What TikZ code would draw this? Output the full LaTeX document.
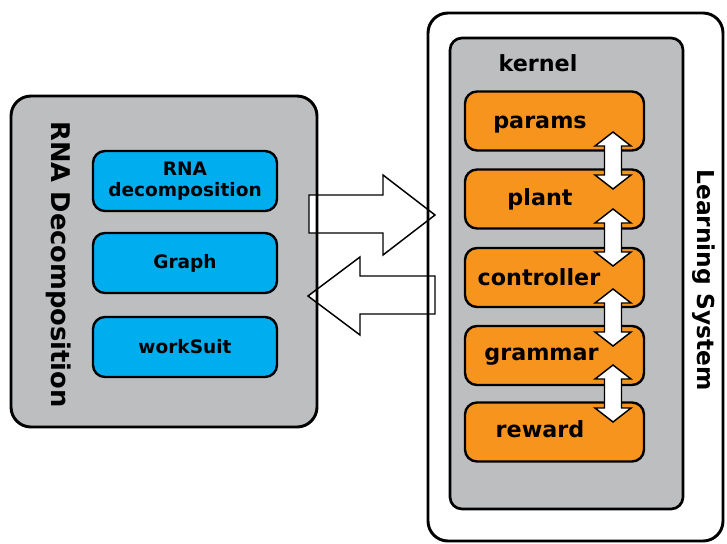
\documentclass[tikz,border=0pt]{standalone}
\usepackage{fontspec}
\setmainfont{DejaVu Sans}
\definecolor{boxgray}{HTML}{BCBEC0}
\definecolor{skyblue}{HTML}{00AEEF}
\definecolor{orng}{HTML}{F7941E}
\begin{document}
\begin{tikzpicture}[x=0.75pt,y=-0.75pt,
  bigframe/.style={line width=2.2pt, rounded corners=15pt},
  kernframe/.style={line width=2pt, rounded corners=9pt},
  bluebox/.style={draw, line width=1.8pt, fill=skyblue, rounded corners=9pt,
     minimum width=184*0.75pt, minimum height=60*0.75pt, inner sep=0pt,
     font=\fontsize{13.9}{15.5}\selectfont\bfseries, align=center},
  orangebox/.style={draw, line width=1.8pt, fill=orng, rounded corners=9pt,
     minimum width=179*0.75pt, minimum height=59*0.75pt, inner sep=0pt},
  otext/.style={font=\fontsize{16.7}{18}\selectfont\bfseries, inner sep=0pt},
  blockarrow/.style={draw, fill=white, line width=1.1pt, line join=miter},
  dbl/.pic={\path[blockarrow] (0,0) -- (18,14) -- (8.5,14) -- (8.5,43) -- (18,43) -- (0,57)
      -- (-18,43) -- (-8.5,43) -- (-8.5,14) -- (-18,14) -- cycle;}
]
\useasboundingbox (0,0) rectangle (727,543);
% frames (fill)
\path[bigframe, fill=boxgray] (11,96) rectangle (317,427);
\path[bigframe, fill=white] (428,13) rectangle (723,541);
% block arrows
\path[blockarrow] (309,195) -- (383,195) -- (383,175) -- (435,215) -- (383,255) -- (383,233) -- (309,233) -- cycle;
\path[blockarrow] (435,276) -- (360,276) -- (360,257) -- (308,296) -- (360,335) -- (360,314) -- (435,314) -- cycle;
% frame borders
\draw[bigframe] (11,96) rectangle (317,427);
\draw[bigframe] (428,13) rectangle (723,541);
% left content
\node[rotate=-90, font=\fontsize{19.3}{21}\selectfont\bfseries, inner sep=0pt] (rnatitle) at (59,264.5) {RNA Decomposition};
\node[bluebox] (rna) at (185,181) {RNA\\decomposition};
\node[bluebox] (graph) at (185,263) {Graph};
\node[bluebox] (work) at (185,347) {workSuit};
% kernel
\draw[kernframe, fill=boxgray] (450,38) rectangle (683,509);
\node[otext] (kerneltxt) at (538,63) {kernel};
\node[orangebox] (params) at (554.5,121) {};
\node[orangebox] (plant) at (554.5,199) {};
\node[orangebox] (controller) at (554.5,277.5) {};
\node[orangebox] (grammar) at (554.5,355.5) {};
\node[orangebox] (reward) at (554.5,432) {};
\node[otext, anchor=base] at (540,128) {params};
\node[otext, anchor=base] at (540,205) {plant};
\node[otext, anchor=base] at (539,285) {controller};
\node[otext, anchor=base] at (541.5,360) {grammar};
\node[otext, anchor=base] at (540,437) {reward};
\pic at (613,132) {dbl};
\pic at (613,209) {dbl};
\pic at (613,289) {dbl};
\pic at (613,365) {dbl};
\node[rotate=-90, font=\fontsize{17.5}{19}\selectfont\bfseries, inner sep=0pt] (lstitle) at (704,280) {Learning System};
\end{tikzpicture}
\end{document}
